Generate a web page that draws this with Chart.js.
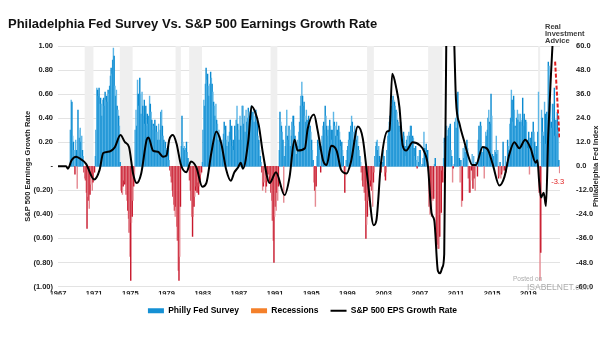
<!DOCTYPE html>
<html>
<head>
<meta charset="utf-8">
<script src="https://cdn.jsdelivr.net/npm/chart.js@4.4.0/dist/chart.umd.min.js"></script>
<style>
  html, body { margin: 0; padding: 0; background: #fff; }
</style>
</head>
<body>
<canvas id="phillyChart" width="605" height="341"></canvas>
<script>
// x axis labels (every 4 years)
var yearTicks = [1967, 1971, 1975, 1979, 1983, 1987, 1991, 1995, 1999, 2003, 2007, 2011, 2015, 2019];

// Philly Fed business outlook index, monthly from May 1968 to Jun 2022
var phillyStart = 1968 + 4 / 12;
var phillyFed = [
  18, 33, 32, 15, 12, 8, -4, 13,                          // 1968
  8, -11, 28, 18, 14, 19, 12, 15, 8, 5, -3, -6,           // 1969
  -7, -13, -31, -15, -17, -21, -14, -9, -5, -12, -8, -3,  // 1970
  -3, 5, 18, 39, 38, 35, 39, 31, 34, 31, 25, 33,          // 1971
  34, 30, 37, 33, 35, 32, 38, 36, 40, 45, 49, 46,         // 1972
  53, 59, 55, 40, 35, 38, 30, 28, 25, 20, 2, -12,         // 1973
  -13, -14, -10, -7, -9, -8, -14, -17, -22, -26, -33, -45, // 1974
  -57, -28, -25, -17, -10, -4, 18, 28, 20, 43, 36, 30,    // 1975
  44, 36, 26, 37, 30, 25, 33, 21, 30, 20, 26, 21,         // 1976
  25, 35, 31, 27, 23, 18, 21, 20, 23, 18, 20, 17,         // 1977
  13, 21, 13, 18, 27, 28, 20, 15, 13, 10, 12, 9,          // 1978
  8, 6, 10, 3, -2, -5, -8, -12, -15, -19, -22, -25,       // 1979
  -20, -30, -37, -52, -57, -45, -20, 10, 25, 12, 9, 10,   // 1980
  8, 9, 12, 7, 4, 2, -7, -12, -17, -25, -35, -25,         // 1981
  -20, -15, -12, -10, -13, -8, -14, -10, -7, -4, -3, 2,   // 1982
  18, 33, 30, 41, 49, 43, 46, 40, 35, 41, 47, 44,         // 1983
  41, 37, 32, 30, 25, 31, 23, 21, 13, 18, 15, 12,         // 1984
  11, 13, 10, 16, 22, 18, 20, 13, 10, 15, 12, 17,         // 1985
  23, 13, 20, 10, 13, 8, 20, 15, 23, 30, 21, 18,          // 1986
  13, 25, 20, 13, 30, 30, 21, 25, 17, 28, 22, 24,         // 1987
  29, 27, 25, 28, 30, 23, 27, 27, 22, 25, 28, 22,         // 1988
  22, 15, 13, 8, 5, 2, -3, -12, -10, -8, 1, -13,          // 1989
  -10, -7, -4, -2, -8, -5, -13, -17, -27, -37, -48, -25,  // 1990
  -20, -22, -13, -17, -10, 8, 27, 22, 20, 17, 13, -18,    // 1991
  5, 10, 20, 28, 15, 13, 20, 18, 10, 15, 22, 25,          // 1992
  25, 20, 15, 10, 6, 13, 10, 17, 22, 30, 35, 42,          // 1993
  35, 30, 32, 25, 22, 28, 23, 20, 25, 22, 20, 17,         // 1994
  13, 8, 3, -8, -12, -20, -10, 5, 13, 10, 12, 8,          // 1995
  -3, 10, 15, 20, 22, 18, 30, 25, 20, 15, 18, 20,         // 1996
  23, 20, 18, 13, 18, 27, 22, 20, 15, 22, 18, 15,         // 1997
  20, 17, 13, 10, 12, 8, 5, -3, -13, -5, 3, 8,            // 1998
  10, 13, 17, 13, 20, 25, 22, 17, 13, 20, 15, 18,         // 1999
  13, 15, 10, 8, 5, 2, -3, -7, -10, -10, -13, -17,        // 2000
  -36, -29, -25, -17, -15, -20, -10, -7, -12, -20, -8, -3, // 2001
  5, 10, 12, 13, 8, 10, 5, 2, -3, 0, 2, 8,                // 2002
  5, -5, -7, -3, 8, 15, 18, 22, 25, 28, 30, 33,           // 2003
  35, 33, 32, 30, 28, 27, 23, 22, 20, 17, 22, 20,         // 2004
  13, 12, 17, 15, 10, 5, 13, 15, 10, 17, 15, 20,          // 2005
  20, 12, 15, 14, 9, 5, 10, 3, -1, 5, 2, 8,               // 2006
  8, 1, 0, 1, 4, 17, 9, 0, 11, 7, 8, -2,                  // 2007
  -20, -24, -17, -25, -16, -17, -16, 1, 4, -37, -39, -33, // 2008
  -41, -41, -35, -24, -23, -2, -8, 4, 14, 12, 17, 20,     // 2009
  15, 18, 19, 20, 21, 8, 5, -8, -1, 1, 22, 24,            // 2010
  19, 36, 37, 18, 4, -8, 3, -20, -17, 9, 4, 10,           // 2011
  7, 10, 13, 9, -6, -13, -13, -7, -2, 6, -11, 5,          // 2012
  -6, -12, 2, 1, -5, 13, 20, 9, 22, 20, 7, 7,             // 2013
  9, -6, 9, 17, 15, 18, 24, 28, 22, 21, 36, 25,           // 2014
  6, 5, 5, 8, 7, 15, 6, 8, -6, -5, 2, -6,                 // 2015
  -4, -3, 12, -2, -2, 5, -3, 2, 13, 10, 8, 21,            // 2016
  24, 38, 33, 22, 35, 28, 20, 19, 24, 28, 23, 26,         // 2017
  22, 26, 22, 23, 34, 20, 26, 12, 23, 22, 13, 9,          // 2018
  17, -4, 14, 9, 17, 0, 22, 17, 12, 6, 10, 2,             // 2019
  17, 37, -13, -57, -43, 28, 24, 17, 15, 32, 26, 11,      // 2020
  27, 23, 52, 50, 32, 31, 22, 19, 31, 24, 39, 15,         // 2021
  23, 16, 27, 18, 3, -3.3                                 // 2022
];

// S&P 500 EPS growth rate (left axis)
var epsYears = [1967.0, 1967.9, 1968.1, 1968.5, 1969.0, 1969.6, 1970.1, 1971.0, 1971.6, 1972.0,
  1972.5, 1972.9, 1973.3, 1973.9, 1974.4, 1974.85, 1975.3, 1975.7, 1976.2, 1976.8,
  1977.0, 1977.5, 1978.05, 1978.6, 1979.0, 1979.3, 1979.7, 1980.1, 1980.6, 1981.2,
  1981.7, 1982.3, 1982.95, 1983.4, 1983.95, 1984.5, 1985.05, 1985.6, 1986.1, 1986.5,
  1986.9, 1987.2, 1987.45, 1988.05, 1988.4, 1988.8, 1989.2, 1989.65, 1990.4, 1991.1,
  1992.05, 1992.6, 1993.15, 1993.5, 1994.3, 1994.6, 1995.3, 1995.7, 1996.3, 1996.7,
  1997.2, 1997.8, 1998.3, 1998.9, 1999.4, 2000.15, 2000.7, 2001.25, 2001.9, 2002.2,
  2002.7, 2003.4, 2003.65, 2003.95, 2004.4, 2004.75, 2005.1, 2005.5, 2006.2, 2007.0,
  2007.5, 2007.9, 2008.3, 2008.6, 2009.0, 2009.25, 2009.5, 2009.7, 2010.0, 2010.4,
  2010.8, 2011.0, 2011.4, 2011.9, 2012.3, 2012.8, 2013.2, 2013.95, 2014.5, 2015.05,
  2015.8, 2016.35, 2016.9, 2017.45, 2018.0, 2018.65, 2019.25, 2019.8, 2020.0, 2020.2,
  2020.4, 2020.7, 2020.95, 2021.2, 2021.5, 2021.68, 2021.85, 2021.98];
var epsGrowth = [0, 0, -0.02, 0.05, 0.08, 0.055, 0.02, -0.11, -0.03, 0.11,
  0.12, 0.13, 0.16, 0.26, 0.2, 0.16, -0.06, -0.14, -0.06, 0.22,
  0.24, 0.13, 0.12, 0.08, 0.09, 0.22, 0.26, 0.19, 0.01, -0.05,
  0.04, -0.01, -0.17, -0.14, 0.11, 0.29, 0.19, -0.03, -0.12, -0.05,
  -0.01, 0.03, -0.02, 0.22, 0.5, 0.45, 0.34, 0.11, -0.14, -0.05,
  -0.24, -0.09, 0.22, 0.13, 0.15, 0.31, 0.43, 0.3, 0.05, 0.01,
  0.17, 0.13, -0.03, -0.06, 0.04, 0.33, 0.23, -0.12, -0.49, -0.45,
  0.02, 0.29, 0.3, 0.77, 0.65, 0.49, 0.175, 0.13, 0.2, 0.175,
  0.12, 0, -0.39, -0.45, -0.87, -0.89, -0.84, -0.73, 1.6, 2.0,
  1.05, 0.55, 0.35, 0.21, 0.1, 0.01, 0.01, 0.16, 0.14, 0.02,
  -0.16, -0.09, 0.1, 0.2, 0.15, 0.22, 0.15, 0.03, 0.05, -0.13,
  -0.26, -0.22, -0.33, 0.26, 0.76, 1.02, 1.2, 1.05];

// red dashed estimate at the end
var epsEstYears = [2021.96, 2022.44];
var epsEstGrowth = [0.87, 0.24];

// NBER recessions
var recessionStart = [1969.92, 1973.83, 1980.0, 1981.5, 1990.5, 2001.17, 2007.92, 2020.08];
var recessionEnd = [1970.92, 1975.25, 1980.58, 1982.92, 1991.25, 2001.92, 2009.5, 2020.33];

var FONT = "'Liberation Sans', Arial, sans-serif";

var phillyPoints = phillyFed.map(function (v, i) {
  return { x: phillyStart + i / 12 + 1 / 24, y: v };
});
var epsPoints = epsYears.map(function (x, i) { return { x: x, y: epsGrowth[i] }; });
var estPoints = epsEstYears.map(function (x, i) { return { x: x, y: epsEstGrowth[i] }; });
var recessionPoints = [];
recessionStart.forEach(function (s, i) {
  recessionPoints.push({ x: s, y: 0 }, { x: s, y: 1 }, { x: recessionEnd[i], y: 1 }, { x: recessionEnd[i], y: 0 });
});

function leftLabel(v) {
  var r = Math.round(v * 100) / 100;
  if (r === 0) return '-';
  if (r < 0) return '(' + (-r).toFixed(2) + ')';
  return r.toFixed(2);
}

var extras = {
  id: 'extras',
  afterDraw: function (chart) {
    var ctx = chart.ctx;
    var area = chart.chartArea;
    ctx.save();
    // title
    ctx.fillStyle = '#111';
    ctx.font = 'bold 13px ' + FONT;
    ctx.textBaseline = 'middle';
    ctx.textAlign = 'left';
    ctx.fillText('Philadelphia Fed Survey Vs. S&P 500 Earnings Growth Rate', 8, 24);

    // axis titles
    ctx.font = 'bold 7.5px ' + FONT;
    ctx.fillStyle = '#222';
    ctx.textAlign = 'center';
    var midY = (area.top + area.bottom) / 2;
    ctx.save();
    ctx.translate(28, midY);
    ctx.rotate(-Math.PI / 2);
    ctx.fillText('S&P 500 Earnings Growth Rate', 0, 0);
    ctx.restore();
    ctx.save();
    ctx.translate(596, midY);
    ctx.rotate(-Math.PI / 2);
    ctx.fillText('Philadelphia Fed Index', 0, 0);
    ctx.restore();

    // last reading label
    var last = phillyPoints[phillyPoints.length - 1];
    var px = chart.scales.x.getPixelForValue(last.x);
    var py = chart.scales.y2.getPixelForValue(last.y);
    ctx.fillStyle = '#e02020';
    ctx.font = '7.5px ' + FONT;
    ctx.fillText(String(last.y), px - 2, py + 9);

    // logo text
    ctx.textAlign = 'left';
    ctx.fillStyle = '#3c3c3c';
    ctx.font = 'bold 7.5px ' + FONT;
    ctx.fillText('Real', 545, 27);
    ctx.fillText('Investment', 545, 34);
    ctx.fillText('Advice', 545, 41);

    // watermark
    ctx.fillStyle = 'rgba(150,150,150,0.8)';
    ctx.font = '6.5px ' + FONT;
    ctx.fillText('Posted on', 513, 279);
    ctx.font = '8.5px ' + FONT;
    ctx.fillText('ISABELNET.com', 527, 288);
    ctx.restore();
  }
};

new Chart('phillyChart', {
  type: 'bar',
  data: {
    datasets: [{
      type: 'line',
      label: 'S&P 500 EPS Growth Rate',
      data: epsPoints,
      yAxisID: 'y',
      borderColor: '#000',
      borderWidth: 2,
      pointRadius: 0,
      cubicInterpolationMode: 'monotone',
      fill: false
    }, {
      type: 'line',
      label: 'Estimate',
      data: estPoints,
      yAxisID: 'y',
      borderColor: '#e01e1e',
      borderWidth: 2,
      borderDash: [4, 2],
      pointRadius: 0,
      fill: false
    }, {
      type: 'bar',
      label: 'Philly Fed Survey',
      data: phillyPoints,
      yAxisID: 'y2',
      barPercentage: 1,
      categoryPercentage: 1,
      grouped: false,
      borderWidth: 0,
      backgroundColor: function (c) {
        var v = c.raw ? c.raw.y : 0;
        var odd = c.dataIndex % 2 === 1;
        if (v < 0) return odd ? '#e58a92' : '#c8182c';
        return odd ? '#5cb6e6' : '#0a8ad0';
      }
    }, {
      type: 'line',
      label: 'Recessions',
      data: recessionPoints,
      yAxisID: 'y',
      borderWidth: 0,
      borderColor: 'rgba(0,0,0,0)',
      backgroundColor: '#efefef',
      pointRadius: 0,
      fill: 'origin'
    }]
  },
  options: {
    responsive: false,
    animation: false,
    layout: { padding: { top: 46, left: 0, right: 0, bottom: 16 } },
    plugins: {
      tooltip: { enabled: false },
      legend: {
        position: 'bottom',
        labels: {
          usePointStyle: true,
          pointStyleWidth: 16,
          boxHeight: 5,
          padding: 12,
          color: '#111',
          font: { family: FONT, size: 8.5, weight: 'bold' },
          generateLabels: function (chart) {
            var ds = chart.data.datasets;
            return [
              { text: ds[2].label, fillStyle: '#1590d4', strokeStyle: '#1590d4', lineWidth: 0, pointStyle: 'rect', datasetIndex: 2, hidden: false },
              { text: ds[3].label, fillStyle: '#f4802a', strokeStyle: '#f4802a', lineWidth: 0, pointStyle: 'rect', datasetIndex: 3, hidden: false },
              { text: ds[0].label, fillStyle: '#000', strokeStyle: '#000', lineWidth: 2, pointStyle: 'line', datasetIndex: 0, hidden: false }
            ];
          }
        }
      }
    },
    scales: {
      x: {
        type: 'linear',
        min: 1967,
        max: 2022.5,
        offset: false,
        grid: { display: false, drawTicks: false },
        border: { display: false },
        afterBuildTicks: function (axis) {
          axis.ticks = yearTicks.map(function (v) { return { value: v }; });
        },
        afterFit: function (axis) { axis.height = 8; },
        ticks: {
          autoSkip: false,
          maxRotation: 0,
          padding: 3,
          color: '#222',
          font: { family: FONT, size: 7.5, weight: 'bold' },
          callback: function (v) { return String(v); }
        }
      },
      y: {
        position: 'left',
        min: -1,
        max: 1,
        grid: { color: '#e3e3e3', drawTicks: false },
        border: { display: false },
        afterFit: function (axis) { axis.width = 58; },
        ticks: {
          stepSize: 0.2,
          padding: 5,
          color: '#222',
          font: { family: FONT, size: 7.5, weight: 'bold' },
          callback: leftLabel
        }
      },
      y2: {
        position: 'right',
        min: -60,
        max: 60,
        grid: { display: false },
        border: { display: false },
        afterFit: function (axis) { axis.width = 45; },
        ticks: {
          stepSize: 12,
          padding: 8,
          color: '#222',
          font: { family: FONT, size: 7.5, weight: 'bold' },
          callback: function (v) { return v.toFixed(1); }
        }
      }
    }
  },
  plugins: [extras]
});
</script>
</body>
</html>
